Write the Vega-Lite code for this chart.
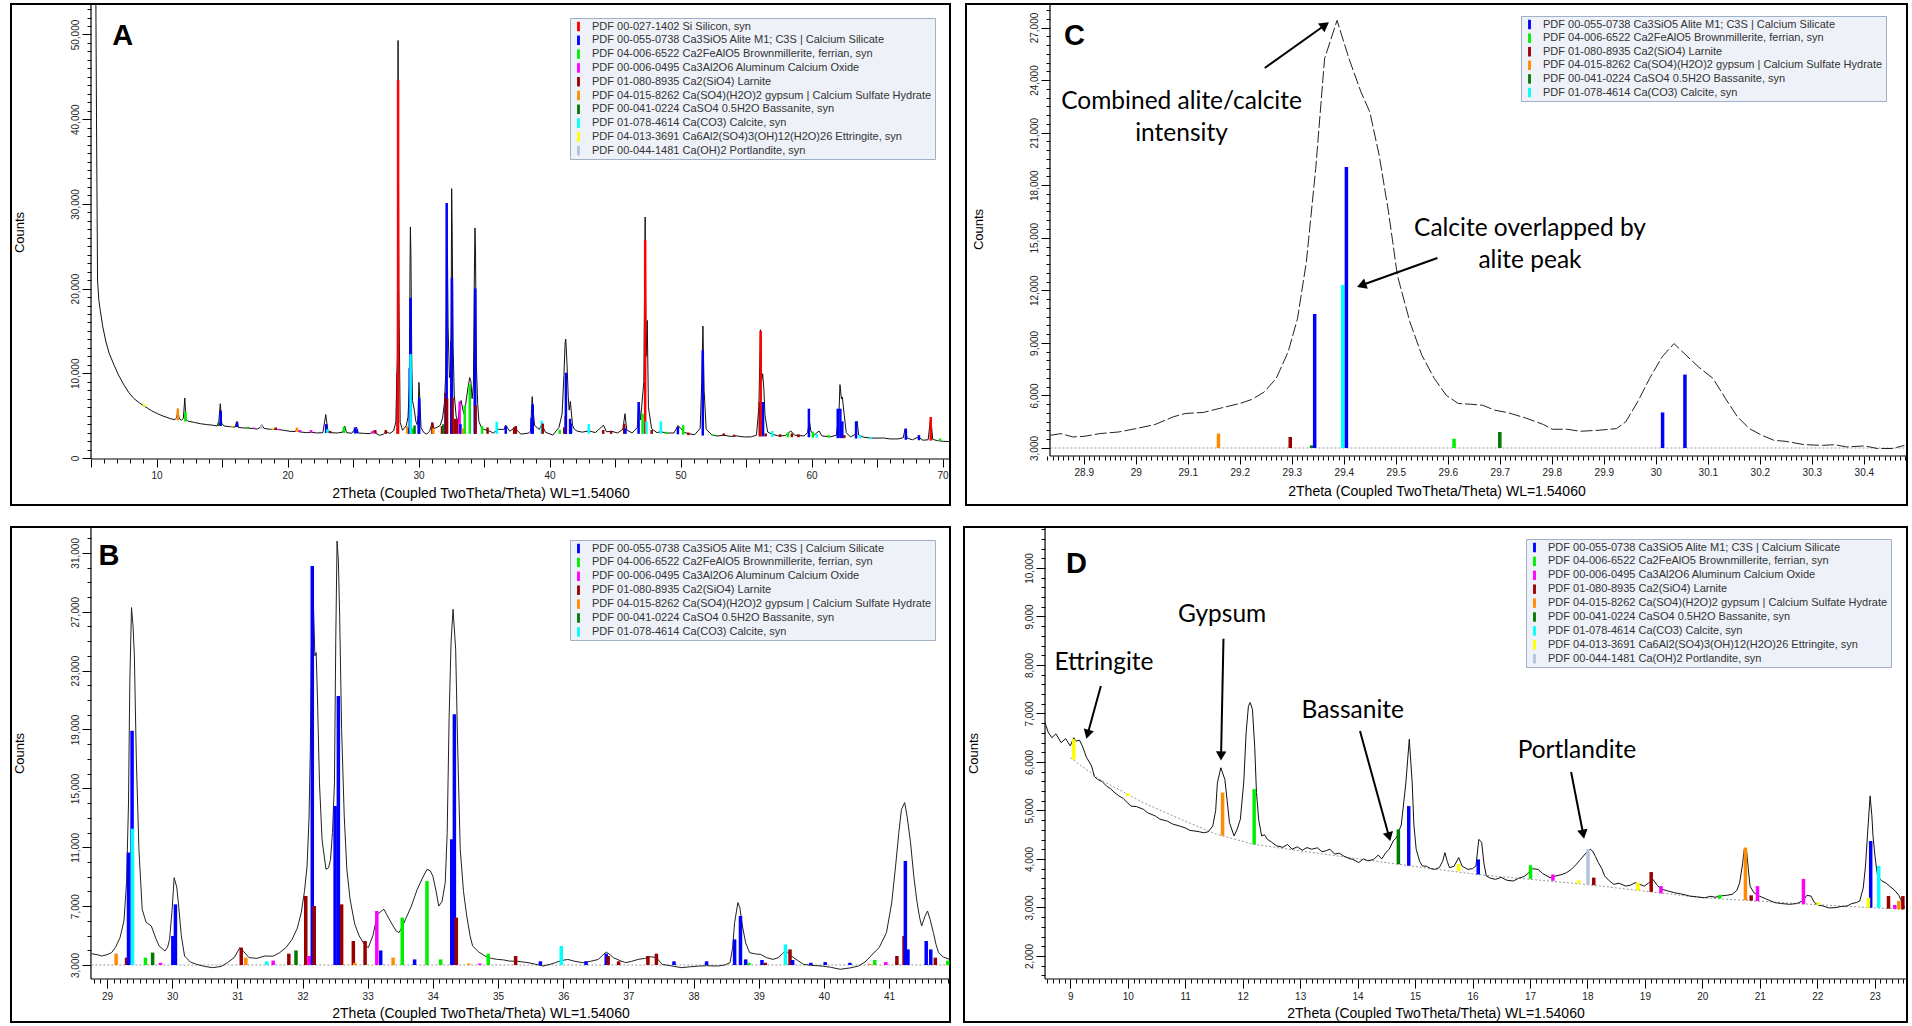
{
"$schema":"https://vega.github.io/schema/vega-lite/v6.json",
"background":"white",
"padding":{"left":10,"top":2,"right":0,"bottom":0},
"config":{"font":"Liberation Sans","view":{"stroke":"#000","strokeWidth":2},
"scale":{"continuousPadding":0},
"axis":{"domain":false,"grid":false,"tickColor":"#000","tickWidth":1,"labelFont":"Liberation Sans","labelFontSize":10,"labelColor":"#222","titleFont":"Liberation Sans","titleFontSize":14,"titleFontWeight":"normal","titleColor":"#000","labelOverlap":false,"labelFlush":false},
"legend":{"labelFont":"Liberation Sans"}},
"datasets":{
"lineA":[{"v":5.35,"c":60000},{"v":5.42,"c":40000},{"v":5.5,"c":21000},{"v":5.6,"c":18600},{"v":5.71,"c":17400},{"v":5.9,"c":15500},{"v":6.14,"c":13700},{"v":6.4,"c":12300},{"v":6.77,"c":10940},{"v":7.1,"c":9800},{"v":7.53,"c":8580},{"v":7.9,"c":7700},{"v":8.29,"c":7000},{"v":8.7,"c":6500},{"v":9.05,"c":6140},{"v":9.3,"c":5900},{"v":9.6,"c":5600},{"v":10.07,"c":5230},{"v":10.5,"c":4950},{"v":11.08,"c":4640},{"v":11.4,"c":4520},{"v":11.55,"c":4800},{"v":11.63,"c":5820},{"v":11.72,"c":4700},{"v":11.9,"c":4450},{"v":12.05,"c":4700},{"v":12.16,"c":7080},{"v":12.25,"c":4600},{"v":12.4,"c":4350},{"v":12.9,"c":4200},{"v":13.35,"c":4050},{"v":13.8,"c":3950},{"v":14.3,"c":3870},{"v":14.62,"c":3780},{"v":14.75,"c":4200},{"v":14.87,"c":6410},{"v":14.98,"c":4100},{"v":15.15,"c":3780},{"v":15.6,"c":3700},{"v":16.0,"c":3650},{"v":16.14,"c":4330},{"v":16.25,"c":3620},{"v":16.6,"c":3550},{"v":16.93,"c":3540},{"v":17.3,"c":3480},{"v":17.7,"c":3420},{"v":17.95,"c":3650},{"v":18.04,"c":3930},{"v":18.2,"c":3500},{"v":18.6,"c":3400},{"v":19.18,"c":3380},{"v":19.6,"c":3300},{"v":20.19,"c":3150},{"v":20.6,"c":3120},{"v":20.72,"c":3450},{"v":20.85,"c":3100},{"v":21.46,"c":2990},{"v":21.8,"c":3050},{"v":22.2,"c":2960},{"v":22.7,"c":2980},{"v":22.92,"c":5120},{"v":23.1,"c":3000},{"v":23.3,"c":2990},{"v":23.8,"c":2950},{"v":24.2,"c":3050},{"v":24.37,"c":3780},{"v":24.5,"c":3000},{"v":24.9,"c":2920},{"v":25.26,"c":3660},{"v":25.4,"c":2950},{"v":25.9,"c":2900},{"v":26.3,"c":2880},{"v":26.65,"c":3250},{"v":26.8,"c":2850},{"v":27.03,"c":2680},{"v":27.3,"c":2800},{"v":27.55,"c":3100},{"v":27.8,"c":2900},{"v":28.1,"c":3200},{"v":28.27,"c":4250},{"v":28.38,"c":12000},{"v":28.44,"c":49300},{"v":28.5,"c":20000},{"v":28.6,"c":4200},{"v":28.78,"c":3270},{"v":29.07,"c":3840},{"v":29.2,"c":4860},{"v":29.3,"c":8590},{"v":29.35,"c":22180},{"v":29.38,"c":27280},{"v":29.42,"c":24000},{"v":29.49,"c":10860},{"v":29.54,"c":6780},{"v":29.68,"c":5650},{"v":29.8,"c":4290},{"v":29.89,"c":3950},{"v":29.96,"c":4740},{"v":30.03,"c":8930},{"v":30.1,"c":7000},{"v":30.19,"c":3610},{"v":30.38,"c":3040},{"v":30.62,"c":2820},{"v":30.85,"c":3160},{"v":31.04,"c":4180},{"v":31.18,"c":3500},{"v":31.42,"c":3610},{"v":31.65,"c":3840},{"v":31.84,"c":4740},{"v":31.98,"c":6550},{"v":32.07,"c":9720},{"v":32.12,"c":17650},{"v":32.15,"c":30100},{"v":32.19,"c":24000},{"v":32.21,"c":24220},{"v":32.26,"c":15385},{"v":32.36,"c":9500},{"v":32.43,"c":10180},{"v":32.49,"c":15385},{"v":32.53,"c":31800},{"v":32.57,"c":26700},{"v":32.64,"c":13120},{"v":32.73,"c":7460},{"v":32.87,"c":4970},{"v":33.01,"c":4180},{"v":33.15,"c":6440},{"v":33.25,"c":6780},{"v":33.39,"c":5650},{"v":33.48,"c":5200},{"v":33.58,"c":6100},{"v":33.76,"c":8140},{"v":33.91,"c":9500},{"v":34.0,"c":9040},{"v":34.09,"c":7000},{"v":34.19,"c":8590},{"v":34.25,"c":19900},{"v":34.31,"c":27160},{"v":34.35,"c":24440},{"v":34.42,"c":10860},{"v":34.52,"c":6330},{"v":34.61,"c":4290},{"v":34.8,"c":3610},{"v":34.99,"c":3380},{"v":35.46,"c":3160},{"v":35.69,"c":2930},{"v":36.07,"c":3380},{"v":36.54,"c":3380},{"v":36.66,"c":3880},{"v":36.96,"c":3160},{"v":37.34,"c":3560},{"v":37.81,"c":2820},{"v":38.37,"c":2930},{"v":38.56,"c":3160},{"v":38.63,"c":5880},{"v":38.68,"c":7240},{"v":38.75,"c":5650},{"v":38.86,"c":3840},{"v":39.22,"c":3380},{"v":39.41,"c":3950},{"v":39.69,"c":3040},{"v":40.25,"c":2710},{"v":40.72,"c":3610},{"v":40.96,"c":5200},{"v":41.1,"c":9720},{"v":41.19,"c":13570},{"v":41.24,"c":14030},{"v":41.33,"c":11300},{"v":41.43,"c":7240},{"v":41.5,"c":5650},{"v":41.59,"c":6670},{"v":41.68,"c":5200},{"v":41.76,"c":3840},{"v":41.9,"c":3380},{"v":42.09,"c":3190},{"v":42.5,"c":3050},{"v":43.0,"c":3200},{"v":43.5,"c":3000},{"v":44.12,"c":3860},{"v":44.35,"c":3100},{"v":44.75,"c":3150},{"v":45.2,"c":2950},{"v":45.6,"c":3400},{"v":45.76,"c":5230},{"v":45.9,"c":3300},{"v":46.3,"c":2950},{"v":46.7,"c":3600},{"v":46.82,"c":6610},{"v":46.95,"c":4500},{"v":47.2,"c":9000},{"v":47.3,"c":28450},{"v":47.38,"c":12000},{"v":47.46,"c":16250},{"v":47.55,"c":6000},{"v":47.79,"c":3460},{"v":48.2,"c":3000},{"v":48.5,"c":3100},{"v":48.9,"c":2950},{"v":49.5,"c":2950},{"v":49.81,"c":3860},{"v":50.0,"c":3500},{"v":50.3,"c":3000},{"v":50.7,"c":2850},{"v":51.08,"c":2750},{"v":51.5,"c":3500},{"v":51.62,"c":9000},{"v":51.71,"c":15580},{"v":51.8,"c":8000},{"v":51.96,"c":3400},{"v":52.4,"c":2700},{"v":52.85,"c":2600},{"v":53.3,"c":2700},{"v":53.8,"c":2550},{"v":54.3,"c":2600},{"v":54.88,"c":2480},{"v":55.4,"c":2500},{"v":55.8,"c":2700},{"v":55.98,"c":6000},{"v":56.1,"c":15140},{"v":56.18,"c":9000},{"v":56.27,"c":9950},{"v":56.36,"c":8180},{"v":56.45,"c":5000},{"v":56.65,"c":3070},{"v":57.0,"c":2800},{"v":57.5,"c":2600},{"v":58.0,"c":2650},{"v":58.42,"c":3190},{"v":58.7,"c":2700},{"v":59.43,"c":2600},{"v":59.7,"c":3000},{"v":59.84,"c":4330},{"v":59.95,"c":3200},{"v":60.2,"c":2700},{"v":60.57,"c":3190},{"v":60.8,"c":2600},{"v":61.46,"c":2500},{"v":61.9,"c":2700},{"v":62.1,"c":5500},{"v":62.17,"c":8660},{"v":62.28,"c":7000},{"v":62.35,"c":7200},{"v":62.5,"c":5040},{"v":62.65,"c":3000},{"v":62.98,"c":2480},{"v":63.35,"c":2800},{"v":63.48,"c":4330},{"v":63.6,"c":2700},{"v":64.0,"c":2450},{"v":64.49,"c":2360},{"v":65.0,"c":2350},{"v":65.5,"c":2360},{"v":66.0,"c":2250},{"v":66.6,"c":2250},{"v":67.0,"c":2400},{"v":67.15,"c":3460},{"v":67.3,"c":2350},{"v":67.7,"c":2150},{"v":68.17,"c":2480},{"v":68.5,"c":2100},{"v":68.9,"c":2150},{"v":69.1,"c":4840},{"v":69.25,"c":2200},{"v":69.6,"c":2050},{"v":70.07,"c":1970},{"v":70.5,"c":1940}],
"stickA":[{"v":9.05,"c":6400,"b":6050,"p":"Ett"},{"v":11.63,"c":5820,"b":4450,"p":"Gyp"},{"v":12.2,"c":5500,"b":4300,"p":"Br"},{"v":14.75,"c":4200,"b":3790,"p":"Bas"},{"v":14.9,"c":5600,"b":3780,"p":"Al"},{"v":15.76,"c":3850,"b":3700,"p":"Ett"},{"v":16.15,"c":4200,"b":3650,"p":"Al"},{"v":17.0,"c":3700,"b":3520,"p":"Br"},{"v":17.4,"c":3600,"b":3480,"p":"C3A"},{"v":18.0,"c":3900,"b":3450,"p":"Por"},{"v":18.88,"c":3500,"b":3350,"p":"Ett"},{"v":19.1,"c":3600,"b":3330,"p":"Lar"},{"v":19.3,"c":3450,"b":3300,"p":"C3A"},{"v":20.72,"c":3600,"b":3100,"p":"Gyp"},{"v":20.96,"c":3300,"b":3080,"p":"C3A"},{"v":21.8,"c":3300,"b":3000,"p":"C3A"},{"v":22.95,"c":4000,"b":2950,"p":"Al"},{"v":23.05,"c":3400,"b":2950,"p":"Cal"},{"v":23.25,"c":3200,"b":2950,"p":"Lar"},{"v":24.3,"c":3700,"b":2950,"p":"Br"},{"v":25.15,"c":3600,"b":2900,"p":"Al"},{"v":25.3,"c":3400,"b":2900,"p":"Al"},{"v":26.5,"c":3200,"b":2880,"p":"C3A"},{"v":26.7,"c":3300,"b":2880,"p":"Lar"},{"v":27.5,"c":3300,"b":2850,"p":"Lar"},{"v":28.4,"c":10000,"b":2850,"p":"Lar"},{"v":28.44,"c":44600,"b":2850,"p":"Si"},{"v":29.14,"c":3770,"b":2850,"p":"Gyp"},{"v":29.3,"c":3500,"b":2850,"p":"Lar"},{"v":29.33,"c":10640,"b":2850,"p":"Al"},{"v":29.385,"c":18910,"b":2850,"p":"Al"},{"v":29.392,"c":12260,"b":2850,"p":"Cal"},{"v":29.59,"c":3500,"b":2850,"p":"Br"},{"v":29.7,"c":3840,"b":2850,"p":"Bas"},{"v":30.01,"c":4970,"b":2850,"p":"Al"},{"v":30.05,"c":7120,"b":2850,"p":"Al"},{"v":31.06,"c":4180,"b":2850,"p":"Lar"},{"v":31.13,"c":3500,"b":2850,"p":"Gyp"},{"v":31.79,"c":3770,"b":2850,"p":"Lar"},{"v":31.9,"c":3990,"b":2850,"p":"Bas"},{"v":32.05,"c":7690,"b":2850,"p":"Lar"},{"v":32.15,"c":30100,"b":2850,"p":"Al"},{"v":32.18,"c":7010,"b":2850,"p":"Lar"},{"v":32.5,"c":13800,"b":2850,"p":"Al"},{"v":32.55,"c":21280,"b":2850,"p":"Al"},{"v":32.6,"c":7120,"b":2850,"p":"Lar"},{"v":32.78,"c":4630,"b":2850,"p":"Lar"},{"v":32.96,"c":4630,"b":2850,"p":"Lar"},{"v":33.14,"c":6670,"b":2850,"p":"C3A"},{"v":33.2,"c":3990,"b":2850,"p":"Al"},{"v":33.39,"c":3500,"b":2850,"p":"Gyp"},{"v":33.53,"c":6220,"b":2850,"p":"Br"},{"v":33.91,"c":8700,"b":2850,"p":"Br"},{"v":34.29,"c":11540,"b":2850,"p":"Al"},{"v":34.33,"c":20030,"b":2850,"p":"Al"},{"v":34.36,"c":6220,"b":2850,"p":"Lar"},{"v":34.85,"c":3770,"b":2850,"p":"Br"},{"v":35.27,"c":3610,"b":2850,"p":"Lar"},{"v":35.97,"c":4290,"b":2850,"p":"Cal"},{"v":36.66,"c":3770,"b":2850,"p":"Al"},{"v":37.3,"c":3610,"b":2850,"p":"Lar"},{"v":37.43,"c":3770,"b":2850,"p":"Lar"},{"v":38.63,"c":4740,"b":2850,"p":"Al"},{"v":38.72,"c":6330,"b":2850,"p":"Al"},{"v":39.41,"c":4400,"b":2850,"p":"Cal"},{"v":39.48,"c":4060,"b":2850,"p":"Lar"},{"v":40.78,"c":3340,"b":2850,"p":"Br"},{"v":41.12,"c":3610,"b":2850,"p":"Lar"},{"v":41.23,"c":4970,"b":2850,"p":"Lar"},{"v":41.25,"c":10070,"b":2850,"p":"Al"},{"v":41.57,"c":4630,"b":2850,"p":"Al"},{"v":41.64,"c":4060,"b":2850,"p":"Al"},{"v":43.0,"c":4000,"b":2850,"p":"Cal"},{"v":44.1,"c":3300,"b":2850,"p":"Lar"},{"v":44.7,"c":3200,"b":2850,"p":"Lar"},{"v":45.7,"c":4050,"b":2850,"p":"Lar"},{"v":45.8,"c":3500,"b":2850,"p":"Al"},{"v":46.8,"c":6610,"b":2850,"p":"Al"},{"v":47.1,"c":5230,"b":2850,"p":"Br"},{"v":47.3,"c":25700,"b":2850,"p":"Si"},{"v":47.4,"c":4330,"b":2850,"p":"Cal"},{"v":47.8,"c":3300,"b":2850,"p":"Lar"},{"v":48.5,"c":4330,"b":2850,"p":"Cal"},{"v":48.9,"c":3100,"b":2850,"p":"Br"},{"v":49.8,"c":3660,"b":2800,"p":"Al"},{"v":50.2,"c":3860,"b":2750,"p":"Br"},{"v":50.6,"c":3000,"b":2700,"p":"Lar"},{"v":51.7,"c":12710,"b":2650,"p":"Al"},{"v":52.5,"c":2800,"b":2600,"p":"Br"},{"v":53.3,"c":2900,"b":2600,"p":"Lar"},{"v":54.1,"c":2750,"b":2550,"p":"Lar"},{"v":56.05,"c":6610,"b":2550,"p":"Lar"},{"v":56.12,"c":14990,"b":2550,"p":"Si"},{"v":56.3,"c":6610,"b":2550,"p":"Al"},{"v":56.5,"c":2900,"b":2550,"p":"Lar"},{"v":57.0,"c":3190,"b":2500,"p":"Cal"},{"v":57.6,"c":2800,"b":2500,"p":"Lar"},{"v":58.2,"c":3000,"b":2450,"p":"Br"},{"v":58.5,"c":2900,"b":2450,"p":"Lar"},{"v":59.0,"c":2800,"b":2450,"p":"Lar"},{"v":59.8,"c":5820,"b":2450,"p":"Al"},{"v":60.1,"c":3100,"b":2400,"p":"Br"},{"v":60.4,"c":2800,"b":2400,"p":"Cal"},{"v":61.3,"c":2700,"b":2400,"p":"Br"},{"v":62.0,"c":5820,"b":2350,"p":"Al"},{"v":62.2,"c":5820,"b":2350,"p":"Al"},{"v":62.35,"c":4330,"b":2350,"p":"Al"},{"v":62.5,"c":2700,"b":2350,"p":"Lar"},{"v":63.4,"c":4330,"b":2300,"p":"Al"},{"v":63.7,"c":2700,"b":2300,"p":"Cal"},{"v":64.5,"c":2500,"b":2250,"p":"Cal"},{"v":67.2,"c":3460,"b":2150,"p":"Al"},{"v":68.2,"c":2700,"b":2100,"p":"Al"},{"v":69.1,"c":4840,"b":2050,"p":"Si"},{"v":69.8,"c":2300,"b":2000,"p":"Br"}],
"lineB":[{"v":28.76,"c":3770},{"v":28.85,"c":3700},{"v":28.92,"c":3610},{"v":29.0,"c":3700},{"v":29.07,"c":3840},{"v":29.13,"c":4200},{"v":29.2,"c":4860},{"v":29.26,"c":6000},{"v":29.3,"c":8590},{"v":29.33,"c":14000},{"v":29.35,"c":22180},{"v":29.376,"c":27280},{"v":29.4,"c":26000},{"v":29.42,"c":24000},{"v":29.45,"c":17000},{"v":29.49,"c":10860},{"v":29.54,"c":6780},{"v":29.6,"c":5900},{"v":29.68,"c":5650},{"v":29.75,"c":4800},{"v":29.8,"c":4290},{"v":29.89,"c":3950},{"v":29.93,"c":4200},{"v":29.96,"c":4740},{"v":30.0,"c":6800},{"v":30.03,"c":8930},{"v":30.07,"c":8300},{"v":30.1,"c":7000},{"v":30.14,"c":5000},{"v":30.19,"c":3610},{"v":30.28,"c":3200},{"v":30.38,"c":3040},{"v":30.5,"c":2900},{"v":30.62,"c":2820},{"v":30.75,"c":2900},{"v":30.85,"c":3160},{"v":30.95,"c":3500},{"v":31.04,"c":4180},{"v":31.1,"c":3900},{"v":31.18,"c":3500},{"v":31.3,"c":3450},{"v":31.42,"c":3610},{"v":31.55,"c":3600},{"v":31.65,"c":3840},{"v":31.75,"c":4200},{"v":31.84,"c":4740},{"v":31.92,"c":5500},{"v":31.98,"c":6550},{"v":32.03,"c":8000},{"v":32.07,"c":9720},{"v":32.1,"c":13000},{"v":32.12,"c":17650},{"v":32.15,"c":30100},{"v":32.17,"c":27000},{"v":32.19,"c":24000},{"v":32.21,"c":24220},{"v":32.23,"c":21000},{"v":32.26,"c":15385},{"v":32.3,"c":11500},{"v":32.36,"c":9500},{"v":32.4,"c":9600},{"v":32.43,"c":10180},{"v":32.46,"c":12000},{"v":32.49,"c":15385},{"v":32.51,"c":25000},{"v":32.53,"c":31800},{"v":32.55,"c":30500},{"v":32.57,"c":26700},{"v":32.6,"c":19000},{"v":32.64,"c":13120},{"v":32.68,"c":9500},{"v":32.73,"c":7460},{"v":32.8,"c":5800},{"v":32.87,"c":4970},{"v":32.95,"c":4400},{"v":33.01,"c":4180},{"v":33.08,"c":5000},{"v":33.15,"c":6440},{"v":33.22,"c":6700},{"v":33.25,"c":6780},{"v":33.32,"c":6200},{"v":33.39,"c":5650},{"v":33.44,"c":5300},{"v":33.48,"c":5200},{"v":33.53,"c":5600},{"v":33.58,"c":6100},{"v":33.67,"c":7000},{"v":33.76,"c":8140},{"v":33.84,"c":8900},{"v":33.91,"c":9500},{"v":33.96,"c":9400},{"v":34.0,"c":9040},{"v":34.05,"c":8000},{"v":34.09,"c":7000},{"v":34.14,"c":7300},{"v":34.19,"c":8590},{"v":34.22,"c":12000},{"v":34.25,"c":19900},{"v":34.28,"c":25000},{"v":34.31,"c":27160},{"v":34.35,"c":24440},{"v":34.38,"c":18000},{"v":34.42,"c":10860},{"v":34.47,"c":8000},{"v":34.52,"c":6330},{"v":34.57,"c":5000},{"v":34.61,"c":4290},{"v":34.7,"c":3900},{"v":34.8,"c":3610},{"v":34.9,"c":3450},{"v":34.99,"c":3380},{"v":35.08,"c":3350},{"v":35.17,"c":3270},{"v":35.3,"c":3250},{"v":35.46,"c":3160},{"v":35.58,"c":3050},{"v":35.69,"c":2930},{"v":35.8,"c":3050},{"v":35.88,"c":3160},{"v":35.97,"c":3300},{"v":36.07,"c":3380},{"v":36.18,"c":3250},{"v":36.3,"c":3160},{"v":36.42,"c":3250},{"v":36.54,"c":3380},{"v":36.6,"c":3650},{"v":36.66,"c":3880},{"v":36.72,"c":3700},{"v":36.77,"c":3500},{"v":36.87,"c":3300},{"v":36.96,"c":3160},{"v":37.05,"c":3250},{"v":37.15,"c":3380},{"v":37.25,"c":3450},{"v":37.34,"c":3560},{"v":37.43,"c":3500},{"v":37.52,"c":3040},{"v":37.65,"c":2950},{"v":37.81,"c":2820},{"v":37.95,"c":2880},{"v":38.09,"c":2930},{"v":38.2,"c":2950},{"v":38.37,"c":2930},{"v":38.48,"c":3000},{"v":38.56,"c":3160},{"v":38.6,"c":4200},{"v":38.63,"c":5880},{"v":38.68,"c":7240},{"v":38.71,"c":6900},{"v":38.75,"c":5650},{"v":38.8,"c":4500},{"v":38.86,"c":3840},{"v":38.95,"c":3750},{"v":39.03,"c":3720},{"v":39.12,"c":3500},{"v":39.22,"c":3380},{"v":39.3,"c":3500},{"v":39.37,"c":3800},{"v":39.41,"c":3950},{"v":39.45,"c":3850},{"v":39.5,"c":3610},{"v":39.6,"c":3300},{"v":39.69,"c":3040},{"v":39.8,"c":2980},{"v":39.97,"c":2930},{"v":40.1,"c":2850},{"v":40.25,"c":2710},{"v":40.4,"c":2800},{"v":40.53,"c":2930},{"v":40.63,"c":3200},{"v":40.72,"c":3610},{"v":40.85,"c":4200},{"v":40.96,"c":5200},{"v":41.04,"c":7200},{"v":41.1,"c":9720},{"v":41.15,"c":12000},{"v":41.19,"c":13570},{"v":41.24,"c":14030},{"v":41.28,"c":13000},{"v":41.33,"c":11300},{"v":41.38,"c":9000},{"v":41.43,"c":7240},{"v":41.47,"c":6200},{"v":41.5,"c":5650},{"v":41.55,"c":6300},{"v":41.59,"c":6670},{"v":41.63,"c":6100},{"v":41.68,"c":5200},{"v":41.72,"c":4400},{"v":41.76,"c":3840},{"v":41.83,"c":3550},{"v":41.93,"c":3380}],
"stickB":[{"v":29.14,"c":3770,"p":"Gyp"},{"v":29.3,"c":3500,"p":"Lar"},{"v":29.33,"c":10640,"p":"Al"},{"v":29.385,"c":18910,"p":"Al"},{"v":29.392,"c":12260,"p":"Cal"},{"v":29.59,"c":3500,"p":"Br"},{"v":29.7,"c":3840,"p":"Bas"},{"v":29.82,"c":3150,"p":"C3A"},{"v":30.01,"c":4970,"p":"Al"},{"v":30.05,"c":7120,"p":"Al"},{"v":31.06,"c":4180,"p":"Lar"},{"v":31.13,"c":3500,"p":"Gyp"},{"v":31.45,"c":3250,"p":"Cal"},{"v":31.55,"c":3300,"p":"C3A"},{"v":31.79,"c":3770,"p":"Lar"},{"v":31.9,"c":3990,"p":"Bas"},{"v":32.05,"c":7690,"p":"Lar"},{"v":32.1,"c":3610,"p":"C3A"},{"v":32.15,"c":30100,"p":"Al"},{"v":32.18,"c":7010,"p":"Lar"},{"v":32.5,"c":13800,"p":"Al"},{"v":32.55,"c":21280,"p":"Al"},{"v":32.6,"c":7120,"p":"Lar"},{"v":32.78,"c":4630,"p":"Lar"},{"v":32.8,"c":3150,"p":"Gyp"},{"v":32.96,"c":4630,"p":"Lar"},{"v":33.14,"c":6670,"p":"C3A"},{"v":33.2,"c":3990,"p":"Al"},{"v":33.39,"c":3500,"p":"Gyp"},{"v":33.53,"c":6220,"p":"Br"},{"v":33.72,"c":3380,"p":"Al"},{"v":33.91,"c":8700,"p":"Br"},{"v":34.12,"c":3380,"p":"Br"},{"v":34.29,"c":11540,"p":"Al"},{"v":34.33,"c":20030,"p":"Al"},{"v":34.36,"c":6220,"p":"Lar"},{"v":34.55,"c":3100,"p":"Gyp"},{"v":34.72,"c":3100,"p":"C3A"},{"v":34.85,"c":3770,"p":"Br"},{"v":35.27,"c":3610,"p":"Lar"},{"v":35.65,"c":3250,"p":"Al"},{"v":35.97,"c":4290,"p":"Cal"},{"v":36.35,"c":3250,"p":"Al"},{"v":36.66,"c":3770,"p":"Al"},{"v":36.69,"c":3610,"p":"Lar"},{"v":36.85,"c":3250,"p":"Lar"},{"v":37.3,"c":3610,"p":"Lar"},{"v":37.43,"c":3770,"p":"Lar"},{"v":37.7,"c":3250,"p":"Al"},{"v":38.2,"c":3250,"p":"Al"},{"v":38.63,"c":4740,"p":"Al"},{"v":38.72,"c":6330,"p":"Al"},{"v":38.8,"c":3380,"p":"Al"},{"v":38.85,"c":3150,"p":"Br"},{"v":39.05,"c":3340,"p":"Al"},{"v":39.1,"c":3150,"p":"Lar"},{"v":39.41,"c":4400,"p":"Cal"},{"v":39.48,"c":4060,"p":"Lar"},{"v":39.52,"c":3340,"p":"Al"},{"v":39.8,"c":3150,"p":"Al"},{"v":40.02,"c":3200,"p":"Al"},{"v":40.4,"c":3150,"p":"Al"},{"v":40.7,"c":3080,"p":"Gyp"},{"v":40.78,"c":3340,"p":"Br"},{"v":40.95,"c":3200,"p":"C3A"},{"v":41.12,"c":3610,"p":"Lar"},{"v":41.23,"c":4970,"p":"Lar"},{"v":41.25,"c":10070,"p":"Al"},{"v":41.29,"c":4060,"p":"Al"},{"v":41.57,"c":4630,"p":"Al"},{"v":41.64,"c":4060,"p":"Al"},{"v":41.71,"c":3500,"p":"Lar"},{"v":41.9,"c":3300,"p":"Br"}],
"bgB":[{"v":28.76,"c":3000},{"v":41.93,"c":3000}],
"lineC":[{"v":28.836,"c":3725},{"v":28.856,"c":3820},{"v":28.879,"c":3630},{"v":28.902,"c":3670},{"v":28.93,"c":3820},{"v":28.967,"c":3915},{"v":29.0,"c":4105},{"v":29.037,"c":4340},{"v":29.072,"c":4780},{"v":29.095,"c":4970},{"v":29.13,"c":5030},{"v":29.165,"c":5290},{"v":29.2,"c":5540},{"v":29.223,"c":5770},{"v":29.247,"c":6200},{"v":29.27,"c":6970},{"v":29.293,"c":8490},{"v":29.311,"c":10390},{"v":29.328,"c":13620},{"v":29.346,"c":18950},{"v":29.363,"c":25220},{"v":29.387,"c":27410},{"v":29.41,"c":25220},{"v":29.433,"c":23320},{"v":29.45,"c":22180},{"v":29.468,"c":19710},{"v":29.486,"c":16470},{"v":29.503,"c":12860},{"v":29.527,"c":10200},{"v":29.55,"c":8300},{"v":29.574,"c":6970},{"v":29.597,"c":6010},{"v":29.62,"c":5540},{"v":29.644,"c":5500},{"v":29.667,"c":5440},{"v":29.69,"c":5160},{"v":29.714,"c":5030},{"v":29.749,"c":4720},{"v":29.784,"c":4340},{"v":29.801,"c":4070},{"v":29.83,"c":4070},{"v":29.854,"c":3955},{"v":29.889,"c":4010},{"v":29.924,"c":4105},{"v":29.942,"c":4485},{"v":29.965,"c":5630},{"v":29.988,"c":6970},{"v":30.012,"c":8200},{"v":30.035,"c":8960},{"v":30.058,"c":8300},{"v":30.082,"c":7630},{"v":30.11,"c":6970},{"v":30.134,"c":5820},{"v":30.157,"c":4780},{"v":30.18,"c":4105},{"v":30.204,"c":3725},{"v":30.227,"c":3440},{"v":30.25,"c":3380},{"v":30.286,"c":3190},{"v":30.32,"c":3150},{"v":30.344,"c":3190},{"v":30.367,"c":3060},{"v":30.402,"c":3120},{"v":30.426,"c":2970},{"v":30.455,"c":2970},{"v":30.478,"c":3150}],
"stickC":[{"v":29.159,"c":3820,"p":"Gyp"},{"v":29.297,"c":3630,"p":"Lar"},{"v":29.338,"c":3150,"p":"Bas"},{"v":29.344,"c":10650,"p":"Al"},{"v":29.398,"c":12310,"p":"Cal"},{"v":29.405,"c":19040,"p":"Al"},{"v":29.612,"c":3530,"p":"Br"},{"v":29.7,"c":3915,"p":"Bas"},{"v":30.013,"c":5030,"p":"Al"},{"v":30.056,"c":7190,"p":"Al"}],
"bgC":[{"v":28.836,"c":3000},{"v":30.478,"c":3000}],
"lineD":[{"v":8.56,"c":6810},{"v":8.62,"c":6600},{"v":8.68,"c":6500},{"v":8.75,"c":6580},{"v":8.84,"c":6400},{"v":8.92,"c":6480},{"v":9.0,"c":6330},{"v":9.06,"c":6500},{"v":9.1,"c":6430},{"v":9.16,"c":6450},{"v":9.21,"c":6330},{"v":9.28,"c":6100},{"v":9.37,"c":5917},{"v":9.42,"c":5700},{"v":9.475,"c":5640},{"v":9.55,"c":5600},{"v":9.634,"c":5500},{"v":9.7,"c":5450},{"v":9.76,"c":5380},{"v":9.845,"c":5300},{"v":9.92,"c":5250},{"v":10.0,"c":5150},{"v":10.057,"c":5090},{"v":10.15,"c":5080},{"v":10.27,"c":5025},{"v":10.35,"c":4950},{"v":10.48,"c":4886},{"v":10.56,"c":4820},{"v":10.69,"c":4780},{"v":10.78,"c":4720},{"v":10.9,"c":4680},{"v":11.0,"c":4640},{"v":11.08,"c":4590},{"v":11.17,"c":4575},{"v":11.25,"c":4560},{"v":11.32,"c":4540},{"v":11.4,"c":4560},{"v":11.48,"c":4680},{"v":11.53,"c":5000},{"v":11.56,"c":5570},{"v":11.62,"c":5880},{"v":11.69,"c":5640},{"v":11.73,"c":5200},{"v":11.77,"c":4750},{"v":11.85,"c":4475},{"v":11.9,"c":4600},{"v":11.96,"c":4820},{"v":12.02,"c":5600},{"v":12.06,"c":6605},{"v":12.1,"c":7150},{"v":12.13,"c":7225},{"v":12.17,"c":7085},{"v":12.21,"c":6300},{"v":12.24,"c":5370},{"v":12.28,"c":4800},{"v":12.33,"c":4475},{"v":12.38,"c":4500},{"v":12.43,"c":4405},{"v":12.5,"c":4350},{"v":12.59,"c":4270},{"v":12.7,"c":4240},{"v":12.78,"c":4300},{"v":12.86,"c":4200},{"v":12.95,"c":4250},{"v":13.04,"c":4180},{"v":13.12,"c":4235},{"v":13.2,"c":4200},{"v":13.3,"c":4230},{"v":13.38,"c":4150},{"v":13.44,"c":4165},{"v":13.52,"c":4200},{"v":13.6,"c":4100},{"v":13.68,"c":4120},{"v":13.75,"c":4065},{"v":13.85,"c":4010},{"v":13.92,"c":3990},{"v":14.02,"c":3925},{"v":14.1,"c":4000},{"v":14.18,"c":3960},{"v":14.28,"c":3990},{"v":14.36,"c":4080},{"v":14.42,"c":4000},{"v":14.49,"c":4130},{"v":14.55,"c":4200},{"v":14.62,"c":4370},{"v":14.68,"c":4450},{"v":14.73,"c":4610},{"v":14.76,"c":4700},{"v":14.79,"c":5020},{"v":14.84,"c":5570},{"v":14.9,"c":6470},{"v":14.95,"c":5570},{"v":14.98,"c":4700},{"v":15.02,"c":4200},{"v":15.08,"c":3950},{"v":15.13,"c":3855},{"v":15.2,"c":3850},{"v":15.27,"c":3800},{"v":15.34,"c":3785},{"v":15.42,"c":3820},{"v":15.48,"c":3950},{"v":15.52,"c":4130},{"v":15.56,"c":3950},{"v":15.6,"c":3820},{"v":15.68,"c":3850},{"v":15.76,"c":4030},{"v":15.82,"c":3850},{"v":15.92,"c":3785},{"v":16.0,"c":3800},{"v":16.06,"c":3855},{"v":16.11,"c":4405},{"v":16.16,"c":4340},{"v":16.2,"c":3900},{"v":16.24,"c":3650},{"v":16.32,"c":3600},{"v":16.4,"c":3580},{"v":16.5,"c":3620},{"v":16.6,"c":3560},{"v":16.71,"c":3545},{"v":16.8,"c":3600},{"v":16.9,"c":3640},{"v":16.98,"c":3715},{"v":17.05,"c":3800},{"v":17.14,"c":3785},{"v":17.22,"c":3700},{"v":17.35,"c":3615},{"v":17.45,"c":3650},{"v":17.56,"c":3680},{"v":17.64,"c":3720},{"v":17.72,"c":3785},{"v":17.8,"c":3880},{"v":17.88,"c":3990},{"v":17.98,"c":4130},{"v":18.05,"c":4200},{"v":18.09,"c":4165},{"v":18.14,"c":4050},{"v":18.19,"c":3925},{"v":18.25,"c":3800},{"v":18.3,"c":3650},{"v":18.38,"c":3550},{"v":18.46,"c":3475},{"v":18.55,"c":3500},{"v":18.67,"c":3440},{"v":18.75,"c":3460},{"v":18.83,"c":3510},{"v":18.9,"c":3480},{"v":18.99,"c":3440},{"v":19.06,"c":3500},{"v":19.14,"c":3580},{"v":19.22,"c":3450},{"v":19.3,"c":3375},{"v":19.4,"c":3340},{"v":19.51,"c":3305},{"v":19.62,"c":3280},{"v":19.7,"c":3260},{"v":19.78,"c":3235},{"v":19.9,"c":3220},{"v":20.04,"c":3200},{"v":20.15,"c":3230},{"v":20.22,"c":3210},{"v":20.31,"c":3235},{"v":20.42,"c":3250},{"v":20.52,"c":3270},{"v":20.6,"c":3350},{"v":20.65,"c":3510},{"v":20.7,"c":3900},{"v":20.73,"c":4200},{"v":20.77,"c":4165},{"v":20.8,"c":3800},{"v":20.83,"c":3440},{"v":20.9,"c":3300},{"v":20.99,"c":3235},{"v":21.1,"c":3180},{"v":21.18,"c":3140},{"v":21.26,"c":3100},{"v":21.38,"c":3080},{"v":21.52,"c":3065},{"v":21.64,"c":3080},{"v":21.72,"c":3120},{"v":21.76,"c":3150},{"v":21.82,"c":3250},{"v":21.89,"c":3235},{"v":21.95,"c":3100},{"v":22.02,"c":3050},{"v":22.1,"c":3030},{"v":22.2,"c":2990},{"v":22.31,"c":2995},{"v":22.42,"c":3020},{"v":22.52,"c":3030},{"v":22.6,"c":3080},{"v":22.68,"c":3100},{"v":22.74,"c":3135},{"v":22.8,"c":3400},{"v":22.84,"c":3855},{"v":22.88,"c":4600},{"v":22.92,"c":5300},{"v":22.95,"c":4900},{"v":22.97,"c":4475},{"v":23.01,"c":4000},{"v":23.05,"c":3650},{"v":23.12,"c":3550},{"v":23.2,"c":3500},{"v":23.26,"c":3440},{"v":23.35,"c":3350},{"v":23.42,"c":3250},{"v":23.45,"c":3170},{"v":23.52,"c":2995}],
"stickD":[{"v":9.06,"c":6470,"b":6050,"p":"Ett"},{"v":10.0,"c":5350,"b":5300,"p":"Ett"},{"v":11.65,"c":5370,"b":4480,"p":"Gyp"},{"v":12.2,"c":5440,"b":4300,"p":"Br"},{"v":14.71,"c":4610,"b":3890,"p":"Bas"},{"v":14.89,"c":5090,"b":3860,"p":"Al"},{"v":15.76,"c":3900,"b":3750,"p":"Ett"},{"v":16.1,"c":3990,"b":3680,"p":"Al"},{"v":17.01,"c":3870,"b":3590,"p":"Br"},{"v":17.4,"c":3680,"b":3550,"p":"C3A"},{"v":17.85,"c":3560,"b":3490,"p":"Ett"},{"v":18.01,"c":4200,"b":3475,"p":"Por"},{"v":18.11,"c":3615,"b":3460,"p":"Lar"},{"v":18.88,"c":3510,"b":3350,"p":"Ett"},{"v":19.11,"c":3730,"b":3320,"p":"Lar"},{"v":19.28,"c":3440,"b":3290,"p":"C3A"},{"v":20.3,"c":3260,"b":3180,"p":"Br"},{"v":20.75,"c":4235,"b":3150,"p":"Gyp"},{"v":20.85,"c":3250,"b":3140,"p":"Lar"},{"v":20.96,"c":3440,"b":3130,"p":"C3A"},{"v":21.76,"c":3590,"b":3065,"p":"C3A"},{"v":22.02,"c":3110,"b":3050,"p":"Ett"},{"v":22.93,"c":4370,"b":2995,"p":"Al"},{"v":22.89,"c":3200,"b":2995,"p":"Ett"},{"v":23.07,"c":3855,"b":2990,"p":"Cal"},{"v":23.24,"c":3235,"b":2975,"p":"Lar"},{"v":23.35,"c":3050,"b":2970,"p":"C3A"},{"v":23.42,"c":3135,"b":2965,"p":"Gyp"},{"v":23.49,"c":3235,"b":2960,"p":"Lar"}],
"bgD":[{"v":9.0,"c":6090},{"v":9.5,"c":5650},{"v":10.27,"c":5160},{"v":11.0,"c":4780},{"v":11.54,"c":4510},{"v":12.2,"c":4300},{"v":13.44,"c":4095},{"v":14.71,"c":3890},{"v":16.08,"c":3680},{"v":17.98,"c":3475},{"v":19.99,"c":3200},{"v":21.89,"c":3065},{"v":23.5,"c":2960}],
"annC":[{"v":29.088,"c":22750,"t":"Combined alite/calcite"},{"v":29.088,"c":20900,"t":"intensity"},{"v":29.758,"c":15480,"t":"Calcite overlapped by"},{"v":29.758,"c":13650,"t":"alite peak"}],
"arrC":[{"id":1,"v":29.364,"c":27140,"v2":29.248,"c2":24690},{"id":2,"v":29.434,"c":12287,"v2":29.58,"c2":13845}],
"annD":[{"v":9.586,"c":8047,"t":"Ettringite"},{"v":11.643,"c":9030,"t":"Gypsum"},{"v":13.915,"c":7051,"t":"Bassanite"},{"v":17.817,"c":6226,"t":"Portlandite"}],
"arrD":[{"id":1,"v":9.301,"c":6570,"v2":9.532,"c2":7566},{"id":2,"v":11.624,"c":6123,"v2":11.666,"c2":8541},{"id":3,"v":14.548,"c":4459,"v2":14.042,"c2":6638},{"id":4,"v":17.927,"c":4509,"v2":17.716,"c2":5793}]
},
"spacing":19,
"resolve":{"scale":{"x":"independent","y":"independent","color":"independent"},"legend":{"color":"independent"}},
"vconcat":[
{"hconcat":[
{"width":939,"height":501,
"encoding":{
"x":{"field":"v","type":"quantitative","scale":{"domain":[-1.107,70.57],"nice":false,"zero":false,"padding":0},
"axis":{"offset":-46,"tickCount":72,"title":"2Theta (Coupled TwoTheta/Theta) WL=1.54060","titleY":34,"titleBaseline":"middle","labelPadding":3,
"labelExpr":"datum.value > 9.5 && abs(datum.value/10 - round(datum.value/10)) < 1e-6 ? format(round(datum.value), 'd') : ''",
"tickOpacity":{"condition":{"test":"datum.value < 4.99","value":0},"value":1},
"tickSize":{"condition":{"test":"abs(datum.value/5 - round(datum.value/5)) < 1e-6","value":8},"value":4}}},
"y":{"field":"c","type":"quantitative","scale":{"domain":[-5549,53600],"nice":false,"zero":false,"padding":0},
"axis":{"offset":-80,"tickCount":60,"title":"Counts","titleFontSize":13,"titleAngle":-90,"titleX":-72,"titleY":228,"titleAlign":"center","titleBaseline":"middle","labelAngle":-90,"labelAlign":"center","labelBaseline":"bottom","labelPadding":2,
"labelExpr":"datum.value >= 0 && datum.value % 10000 === 0 ? format(datum.value, ',') : ''",
"tickOpacity":{"condition":{"test":"datum.value < -150","value":0},"value":1},
"tickSize":{"condition":{"test":"datum.value % 10000 === 0","value":9},"value":4}}}},
"layer":[
{"data":{"values":[{"v":5,"c":-118,"v2":70.57,"c2":-118},{"v":5,"c":-118,"v2":5,"c2":53600}]},"mark":{"type":"rule","color":"#000","strokeWidth":1.2},"encoding":{"x2":{"field":"v2"},"y2":{"field":"c2"}}},
{"data":{"name":"lineA"},"mark":{"type":"line","color":"#111","strokeWidth":1,"clip":true}},
{"data":{"name":"stickA"},"mark":{"type":"bar","size":2.5,"clip":true},
"encoding":{"y2":{"field":"b"},"color":{"field":"p","type":"nominal","scale":{"domain":["Si","Al","Br","C3A","Lar","Gyp","Bas","Cal","Ett","Por"],"range":["#ff0000","#0000ff","#00ee00","#ff00ff","#990000","#ff8c00","#007a00","#00ffff","#ffff00","#b0c4de"]},
"legend":{"orient":"none","legendX":559,"legendY":14,"title":null,"direction":"vertical","symbolType":"M-0.3,-1H0.3V1H-0.3Z","symbolSize":90,"symbolStrokeWidth":0,"labelFontSize":11,"labelColor":"#333","labelLimit":600,"labelOffset":8,"rowPadding":1.8,"padding":3,"fillColor":"#eef2f8","strokeColor":"#9fb0c8",
"labelExpr":"({'Si':'PDF 00-027-1402 Si Silicon, syn','Al':'PDF 00-055-0738 Ca3SiO5 Alite M1; C3S | Calcium Silicate','Br':'PDF 04-006-6522 Ca2FeAlO5 Brownmillerite, ferrian, syn','C3A':'PDF 00-006-0495 Ca3Al2O6 Aluminum Calcium Oxide','Lar':'PDF 01-080-8935 Ca2(SiO4) Larnite','Gyp':'PDF 04-015-8262 Ca(SO4)(H2O)2 gypsum | Calcium Sulfate Hydrate','Bas':'PDF 00-041-0224 CaSO4 0.5H2O Bassanite, syn','Cal':'PDF 01-078-4614 Ca(CO3) Calcite, syn','Ett':'PDF 04-013-3691 Ca6Al2(SO4)3(OH)12(H2O)26 Ettringite, syn','Por':'PDF 00-044-1481 Ca(OH)2 Portlandite, syn'})[datum.label]"}}}},
{"data":{"values":[{"v":7.43,"c":49820,"t":"A"}]},"mark":{"type":"text","font":"Liberation Sans","fontWeight":"bold","fontSize":29,"align":"center","baseline":"middle","color":"#000"},"encoding":{"text":{"field":"t"}}}
]},
{"width":941,"height":501,
"encoding":{
"x":{"field":"v","type":"quantitative","scale":{"domain":[28.6735,30.483],"nice":false,"zero":false,"padding":0},
"axis":{"offset":-49,"tickCount":181,"title":"2Theta (Coupled TwoTheta/Theta) WL=1.54060","titleY":35,"titleBaseline":"middle","labelPadding":3,
"labelExpr":"datum.value > 28.85 && abs(datum.value*10 - round(datum.value*10)) < 1e-6 ? format(round(datum.value*10)/10, '~g') : ''",
"tickOpacity":{"condition":{"test":"datum.value < 28.83","value":0},"value":1},
"tickSize":{"condition":{"test":"abs(datum.value*10 - round(datum.value*10)) < 1e-6","value":8},"value":4}}},
"y":{"field":"c","type":"quantitative","scale":{"domain":[-253,28342],"nice":false,"zero":false,"padding":0},
"axis":{"offset":-84,"tickCount":57,"title":"Counts","titleFontSize":13,"titleAngle":-90,"titleX":-72,"titleY":225,"titleAlign":"center","titleBaseline":"middle","labelAngle":-90,"labelAlign":"center","labelBaseline":"bottom","labelPadding":2,
"labelExpr":"datum.value >= 3000 && datum.value % 3000 === 0 ? format(datum.value, ',') : ''",
"tickOpacity":{"condition":{"test":"datum.value < 2540","value":0},"value":1},
"tickSize":{"condition":{"test":"datum.value % 3000 === 0","value":9},"value":4}}}},
"layer":[
{"data":{"values":[{"v":28.835,"c":2543,"v2":30.483,"c2":2543},{"v":28.835,"c":2543,"v2":28.835,"c2":28342}]},"mark":{"type":"rule","color":"#000","strokeWidth":1.2},"encoding":{"x2":{"field":"v2"},"y2":{"field":"c2"}}},
{"data":{"name":"bgC"},"mark":{"type":"line","color":"#999","strokeWidth":1,"strokeDash":[2,2]}},
{"data":{"name":"lineC"},"mark":{"type":"line","color":"#222","strokeWidth":1,"strokeDash":[12,3],"clip":true}},
{"data":{"name":"stickC"},"mark":{"type":"bar","size":3.5,"clip":true},
"encoding":{"y2":{"datum":3000},"color":{"field":"p","type":"nominal","scale":{"domain":["Al","Br","Lar","Gyp","Bas","Cal"],"range":["#0000ff","#00ee00","#990000","#ff8c00","#007a00","#00ffff"]},
"legend":{"orient":"none","legendX":555,"legendY":12,"title":null,"direction":"vertical","symbolType":"M-0.3,-1H0.3V1H-0.3Z","symbolSize":90,"symbolStrokeWidth":0,"labelFontSize":11,"labelColor":"#333","labelLimit":600,"labelOffset":8,"rowPadding":1.6,"padding":3,"fillColor":"#eef2f8","strokeColor":"#9fb0c8",
"labelExpr":"({'Al':'PDF 00-055-0738 Ca3SiO5 Alite M1; C3S | Calcium Silicate','Br':'PDF 04-006-6522 Ca2FeAlO5 Brownmillerite, ferrian, syn','Lar':'PDF 01-080-8935 Ca2(SiO4) Larnite','Gyp':'PDF 04-015-8262 Ca(SO4)(H2O)2 gypsum | Calcium Sulfate Hydrate','Bas':'PDF 00-041-0224 CaSO4 0.5H2O Bassanite, syn','Cal':'PDF 01-078-4614 Ca(CO3) Calcite, syn'})[datum.label]"}}}},
{"data":{"name":"arrC"},"mark":{"type":"rule","color":"#000","strokeWidth":2},"encoding":{"x2":{"field":"v2"},"y2":{"field":"c2"}}},
{"data":{"name":"arrC"},"transform":[{"filter":"datum.id == 1"}],"mark":{"type":"point","shape":"triangle-up","filled":true,"size":120,"angle":54,"color":"#000","opacity":1}},
{"data":{"name":"arrC"},"transform":[{"filter":"datum.id == 2"}],"mark":{"type":"point","shape":"triangle-up","filled":true,"size":120,"angle":250,"color":"#000","opacity":1}},
{"data":{"name":"annC"},"mark":{"type":"text","font":"Lato","fontSize":24.5,"align":"center","baseline":"middle","color":"#000"},"encoding":{"text":{"field":"t"}}},
{"data":{"values":[{"v":28.882,"c":26516,"t":"C"}]},"mark":{"type":"text","font":"Liberation Sans","fontWeight":"bold","fontSize":29,"align":"center","baseline":"middle","color":"#000"},"encoding":{"text":{"field":"t"}}}
]}
],"spacing":16,"bounds":"flush","resolve":{"scale":{"x":"independent","y":"independent","color":"independent"},"legend":{"color":"independent"}}},
{"hconcat":[
{"width":939,"height":495,
"encoding":{
"x":{"field":"v","type":"quantitative","scale":{"domain":[27.527,41.935],"nice":false,"zero":false,"padding":0},
"axis":{"offset":-43,"tickCount":145,"title":"2Theta (Coupled TwoTheta/Theta) WL=1.54060","titleY":34,"titleBaseline":"middle","labelPadding":3,
"labelExpr":"datum.value > 28.9 && abs(datum.value - round(datum.value)) < 1e-6 ? format(round(datum.value), 'd') : ''",
"tickOpacity":{"condition":{"test":"datum.value < 28.75","value":0},"value":1},
"tickSize":{"condition":{"test":"abs(datum.value - round(datum.value)) < 1e-6","value":9},"value":4}}},
"y":{"field":"c","type":"quantitative","scale":{"domain":[-872,32755],"nice":false,"zero":false,"padding":0},
"axis":{"offset":-80,"tickCount":34,"title":"Counts","titleFontSize":13,"titleAngle":-90,"titleX":-72,"titleY":226,"titleAlign":"center","titleBaseline":"middle","labelAngle":-90,"labelAlign":"center","labelBaseline":"bottom","labelPadding":2,
"labelExpr":"datum.value >= 3000 && (datum.value - 3000) % 4000 === 0 ? format(datum.value, ',') : ''",
"tickOpacity":{"condition":{"test":"datum.value < 2040","value":0},"value":1},
"tickSize":{"condition":{"test":"(datum.value - 3000) % 4000 === 0","value":9},"value":4}}}},
"layer":[
{"data":{"values":[{"v":28.754,"c":2049,"v2":41.935,"c2":2049},{"v":28.754,"c":2049,"v2":28.754,"c2":32755}]},"mark":{"type":"rule","color":"#000","strokeWidth":1.2},"encoding":{"x2":{"field":"v2"},"y2":{"field":"c2"}}},
{"data":{"name":"bgB"},"mark":{"type":"line","color":"#999","strokeWidth":1,"strokeDash":[2,2]}},
{"data":{"name":"lineB"},"mark":{"type":"line","color":"#222","strokeWidth":1,"clip":true}},
{"data":{"name":"stickB"},"mark":{"type":"bar","size":3.5,"clip":true},
"encoding":{"y2":{"datum":3000},"color":{"field":"p","type":"nominal","scale":{"domain":["Al","Br","C3A","Lar","Gyp","Bas","Cal"],"range":["#0000ff","#00ee00","#ff00ff","#990000","#ff8c00","#007a00","#00ffff"]},
"legend":{"orient":"none","legendX":559,"legendY":13,"title":null,"direction":"vertical","symbolType":"M-0.3,-1H0.3V1H-0.3Z","symbolSize":90,"symbolStrokeWidth":0,"labelFontSize":11,"labelColor":"#333","labelLimit":600,"labelOffset":8,"rowPadding":1.9,"padding":3,"fillColor":"#eef2f8","strokeColor":"#9fb0c8",
"labelExpr":"({'Al':'PDF 00-055-0738 Ca3SiO5 Alite M1; C3S | Calcium Silicate','Br':'PDF 04-006-6522 Ca2FeAlO5 Brownmillerite, ferrian, syn','C3A':'PDF 00-006-0495 Ca3Al2O6 Aluminum Calcium Oxide','Lar':'PDF 01-080-8935 Ca2(SiO4) Larnite','Gyp':'PDF 04-015-8262 Ca(SO4)(H2O)2 gypsum | Calcium Sulfate Hydrate','Bas':'PDF 00-041-0224 CaSO4 0.5H2O Bassanite, syn','Cal':'PDF 01-078-4614 Ca(CO3) Calcite, syn'})[datum.label]"}}}},
{"data":{"values":[{"v":29.03,"c":30785,"t":"B"}]},"mark":{"type":"text","font":"Liberation Sans","fontWeight":"bold","fontSize":29,"align":"center","baseline":"middle","color":"#000"},"encoding":{"text":{"field":"t"}}}
]},
{"width":943,"height":495,
"encoding":{
"x":{"field":"v","type":"quantitative","scale":{"domain":[7.150,23.562],"nice":false,"zero":false,"padding":0},
"axis":{"offset":-43,"tickCount":164,"title":"2Theta (Coupled TwoTheta/Theta) WL=1.54060","titleY":34,"titleBaseline":"middle","labelPadding":3,
"labelExpr":"datum.value > 8.9 && abs(datum.value - round(datum.value)) < 1e-6 ? format(round(datum.value), 'd') : ''",
"tickOpacity":{"condition":{"test":"datum.value < 8.55","value":0},"value":1},
"tickSize":{"condition":{"test":"abs(datum.value - round(datum.value)) < 1e-6","value":9},"value":4}}},
"y":{"field":"c","type":"quantitative","scale":{"domain":[638,10845],"nice":false,"zero":false,"padding":0},
"axis":{"offset":-81,"tickCount":51,"title":"Counts","titleFontSize":13,"titleAngle":-90,"titleX":-72,"titleY":226,"titleAlign":"center","titleBaseline":"middle","labelAngle":-90,"labelAlign":"center","labelBaseline":"bottom","labelPadding":2,
"labelExpr":"datum.value >= 2000 && datum.value % 1000 === 0 ? format(datum.value, ',') : ''",
"tickOpacity":{"condition":{"test":"datum.value < 1520","value":0},"value":1},
"tickSize":{"condition":{"test":"datum.value % 1000 === 0","value":9},"value":4}}}},
"layer":[
{"data":{"values":[{"v":8.56,"c":1525,"v2":23.562,"c2":1525},{"v":8.56,"c":1525,"v2":8.56,"c2":10845}]},"mark":{"type":"rule","color":"#000","strokeWidth":1.2},"encoding":{"x2":{"field":"v2"},"y2":{"field":"c2"}}},
{"data":{"name":"bgD"},"mark":{"type":"line","color":"#999","strokeWidth":1,"strokeDash":[2,2]}},
{"data":{"name":"lineD"},"mark":{"type":"line","color":"#111","strokeWidth":1,"clip":true}},
{"data":{"name":"stickD"},"mark":{"type":"bar","size":3.5,"clip":true},
"encoding":{"y2":{"field":"b"},"color":{"field":"p","type":"nominal","scale":{"domain":["Al","Br","C3A","Lar","Gyp","Bas","Cal","Ett","Por"],"range":["#0000ff","#00ee00","#ff00ff","#990000","#ff8c00","#007a00","#00ffff","#ffff00","#b0c4de"]},
"legend":{"orient":"none","legendX":562,"legendY":12,"title":null,"direction":"vertical","symbolType":"M-0.3,-1H0.3V1H-0.3Z","symbolSize":90,"symbolStrokeWidth":0,"labelFontSize":11,"labelColor":"#333","labelLimit":600,"labelOffset":8,"rowPadding":1.9,"padding":3,"fillColor":"#eef2f8","strokeColor":"#9fb0c8",
"labelExpr":"({'Al':'PDF 00-055-0738 Ca3SiO5 Alite M1; C3S | Calcium Silicate','Br':'PDF 04-006-6522 Ca2FeAlO5 Brownmillerite, ferrian, syn','C3A':'PDF 00-006-0495 Ca3Al2O6 Aluminum Calcium Oxide','Lar':'PDF 01-080-8935 Ca2(SiO4) Larnite','Gyp':'PDF 04-015-8262 Ca(SO4)(H2O)2 gypsum | Calcium Sulfate Hydrate','Bas':'PDF 00-041-0224 CaSO4 0.5H2O Bassanite, syn','Cal':'PDF 01-078-4614 Ca(CO3) Calcite, syn','Ett':'PDF 04-013-3691 Ca6Al2(SO4)3(OH)12(H2O)26 Ettringite, syn','Por':'PDF 00-044-1481 Ca(OH)2 Portlandite, syn'})[datum.label]"}}}},
{"data":{"name":"arrD"},"mark":{"type":"rule","color":"#000","strokeWidth":2},"encoding":{"x2":{"field":"v2"},"y2":{"field":"c2"}}},
{"data":{"name":"arrD"},"transform":[{"filter":"datum.id == 1"}],"mark":{"type":"point","shape":"triangle-up","filled":true,"size":110,"angle":195,"color":"#000","opacity":1}},
{"data":{"name":"arrD"},"transform":[{"filter":"datum.id == 2"}],"mark":{"type":"point","shape":"triangle-up","filled":true,"size":110,"angle":181,"color":"#000","opacity":1}},
{"data":{"name":"arrD"},"transform":[{"filter":"datum.id == 3"}],"mark":{"type":"point","shape":"triangle-up","filled":true,"size":110,"angle":165,"color":"#000","opacity":1}},
{"data":{"name":"arrD"},"transform":[{"filter":"datum.id == 4"}],"mark":{"type":"point","shape":"triangle-up","filled":true,"size":110,"angle":169,"color":"#000","opacity":1}},
{"data":{"name":"annD"},"mark":{"type":"text","font":"Lato","fontSize":24.5,"align":"center","baseline":"middle","color":"#000"},"encoding":{"text":{"field":"t"}}},
{"data":{"values":[{"v":9.106,"c":10076,"t":"D"}]},"mark":{"type":"text","font":"Liberation Sans","fontWeight":"bold","fontSize":29,"align":"center","baseline":"middle","color":"#000"},"encoding":{"text":{"field":"t"}}}
]}
],"spacing":14,"bounds":"flush","resolve":{"scale":{"x":"independent","y":"independent","color":"independent"},"legend":{"color":"independent"}}}
]
}
